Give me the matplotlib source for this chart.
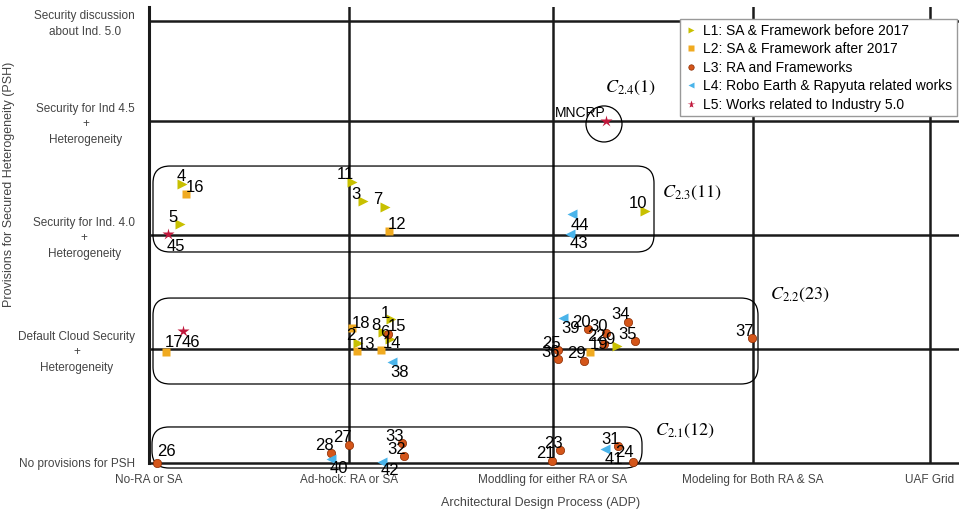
import numpy as np
import matplotlib
matplotlib.use('Agg')
import matplotlib.pyplot as plt
from matplotlib.patches import FancyBboxPatch, Ellipse

plt.rcParams['font.family'] = ['Liberation Sans', 'DejaVu Sans']
plt.rcParams['mathtext.fontset'] = 'stix'

# axis categories
x_ticks = [0, 1, 2.02, 3.02, 3.905]
x_labels = ['No-RA or SA', 'Ad-hock: RA or SA', 'Moddling for either RA or SA',
            'Modeling for Both RA & SA', 'UAF Grid']
y_ticks = [0, 1, 2, 3, 3.88]
y_labels = ['No provisions for PSH', 'Default Cloud Security\n+\nHeterogeneity',
            'Security for Ind. 4.0\n+\nHeterogeneity', 'Security for Ind 4.5\n+\nHeterogeneity',
            'Security discussion\nabout Ind. 5.0']

# L1: SA & Framework before 2017
l1_ids = [1, 2, 3, 4, 5, 7, 8, 9, 10, 11, 15]
l1_x = [1.21, 1.045, 1.07, 0.165, 0.155, 1.18, 1.17, 2.34, 2.48, 1.015, 1.205]
l1_y = [1.263, 1.053, 2.298, 2.447, 2.096, 2.246, 1.149, 1.026, 2.211, 2.465, 1.088]
# L2: SA & Framework after 2017
l2_ids = [12, 13, 14, 16, 17, 18, 19]
l2_x = [1.2, 1.04, 1.16, 0.185, 0.085, 1.015, 2.205]
l2_y = [2.035, 0.982, 0.991, 2.36, 0.974, 1.184, 0.974]
# L3: RA and Frameworks
l3_ids = [6, 20, 21, 22, 23, 24, 25, 26, 27, 28, 29, 30, 31, 32, 33, 34, 35, 36, 37]
l3_x = [1.195, 2.195, 2.015, 2.275, 2.055, 2.42, 2.045, 0.04, 1.0, 0.91, 2.175, 2.285,
        2.345, 1.275, 1.265, 2.395, 2.43, 2.045, 3.015]
l3_y = [1.132, 1.175, 0.018, 1.044, 0.114, 0.009, 0.991, 0.0, 0.158, 0.088, 0.895, 1.14,
        0.149, 0.061, 0.175, 1.237, 1.07, 0.912, 1.096]
# L4: Robo Earth & Rapyuta related works
l4_ids = [38, 39, 40, 41, 42, 43, 44]
l4_x = [1.215, 2.07, 0.91, 2.28, 1.165, 2.105, 2.115]
l4_y = [0.886, 1.272, 0.035, 0.123, 0.009, 2.009, 2.184]
# L5: Works related to Industry 5.0
l5_ids = [45, 46, 'MNCRP']
l5_x = [0.095, 0.17, 2.285]
l5_y = [2.009, 1.158, 3.0]

# label offsets in pixels (default is up-left)
offsets = {16: (9, 6), 45: (8, -13), 12: (8, 7), 18: (9, 5), 6: (-3, 1), 15: (7, 12),
           13: (9, 7), 14: (11, 7), 38: (8, -11), 17: (8, 9), 46: (8, -12), 26: (9, 11),
           40: (8, -9), 42: (8, -9), 41: (9, -11), 39: (8, -11), 19: (9, 7), 44: (8, -11),
           43: (9, -10), 24: (-9, 9), 'MNCRP': (-26, 8), 1: (-6, 6), 4: (-1, 8)}

fig = plt.figure(figsize=(9.59, 5.12), dpi=100)
ax = fig.add_axes([149/959, 49/512, 810/959, 456/512])
ax.set_xlim(0, 4.05)
ax.set_ylim(0, 4.0)

# grid of categories
for xv in x_ticks[1:]:
    ax.axvline(xv, color='#1a1a1a', lw=1.8, zorder=1)
for yv in y_ticks[1:]:
    ax.axhline(yv, color='#1a1a1a', lw=1.8, zorder=1)
for s in ['top', 'right']:
    ax.spines[s].set_visible(False)
ax.spines['left'].set_linewidth(2.2)
ax.spines['bottom'].set_linewidth(1.8)
ax.spines['left'].set_color('#1a1a1a')
ax.spines['bottom'].set_color('#1a1a1a')

ax.set_xticks(x_ticks)
ax.set_xticklabels(x_labels, fontsize=8.5, color='#444444')
ax.set_yticks(y_ticks)
ax.set_yticklabels(y_labels, fontsize=8.5, color='#444444', multialignment='center',
                   linespacing=1.4)
ax.tick_params(length=0, pad=10)
ax.tick_params(axis='x', pad=8)

ax.set_xlabel('Architectural Design Process (ADP)', fontsize=9, color='#444444')
ax.set_ylabel('Provisions for Secured Heterogeneity (PSH)', fontsize=9, color='#444444')
ax.xaxis.set_label_coords(0.484, -0.075)
ax.yaxis.set_label_coords(-0.166, 0.61)

# cluster boxes
aspect = 200 / 114
boxes = [(0.02, 1.851, 2.525, 2.605), (0.02, 0.693, 3.045, 1.447), (0.015, -0.044, 2.465, 0.316)]
for x0, y0, x1, y1 in boxes:
    p = FancyBboxPatch((x0, y0), x1 - x0, y1 - y0, boxstyle='round,pad=0,rounding_size=0.085',
                       mutation_aspect=aspect, fc='none', ec='black', lw=0.9, clip_on=False, zorder=2)
    ax.add_patch(p)
ax.add_patch(Ellipse((2.275, 2.974), 0.18, 0.316, fc='none', ec='black', lw=0.9, zorder=2))

ax.text(2.28, 3.29, r'$C_{2.4}(1)$', fontsize=13, va='center', ha='left')
ax.text(2.565, 2.37, r'$C_{2.3}(11)$', fontsize=13, va='center', ha='left')
ax.text(3.105, 1.474, r'$C_{2.2}(23)$', fontsize=13, va='center', ha='left')
ax.text(2.53, 0.28, r'$C_{2.1}(12)$', fontsize=13, va='center', ha='left')

series = [
    (l1_ids, l1_x, l1_y, dict(marker='>', color='#c8c000', ms=7, mec='none'), 'L1: SA & Framework before 2017'),
    (l2_ids, l2_x, l2_y, dict(marker='s', color='#f0aa20', ms=6, mec='none'), 'L2: SA & Framework after 2017'),
    (l3_ids, l3_x, l3_y, dict(marker='o', color='#d4561a', ms=6, mec='#8a2a00', mew=0.5), 'L3: RA and Frameworks'),
    (l4_ids, l4_x, l4_y, dict(marker='<', color='#4ab4ea', ms=7, mec='none'), 'L4: Robo Earth & Rapyuta related works'),
    (l5_ids, l5_x, l5_y, dict(marker='*', color='#c0183c', ms=9, mec='none'), 'L5: Works related to Industry 5.0'),
]
handles = []
for ids, xs, ys, style, name in series:
    h, = ax.plot(xs, ys, ls='none', label=name, zorder=4, clip_on=False, **style)
    handles.append(h)
    for i, xv, yv in zip(ids, xs, ys):
        dx, dy = offsets.get(i, (-7, 7))
        fs = 10 if i == 'MNCRP' else 12
        ax.annotate(str(i), (xv, yv), xytext=(dx, dy), textcoords='offset pixels',
                    ha='center', va='center', fontsize=fs, zorder=5)

leg = ax.legend(handles=handles, loc='upper right', bbox_to_anchor=(0.998, 0.963),
                bbox_transform=fig.transFigure, fontsize=10, frameon=True, fancybox=False,
                markerscale=0.65, handlelength=0.8, labelspacing=0.32, borderpad=0.35,
                handletextpad=0.5, borderaxespad=0, framealpha=1)
leg.get_frame().set_edgecolor('#999999')
leg.get_frame().set_linewidth(1.0)

plt.savefig('out.png', dpi=100)
